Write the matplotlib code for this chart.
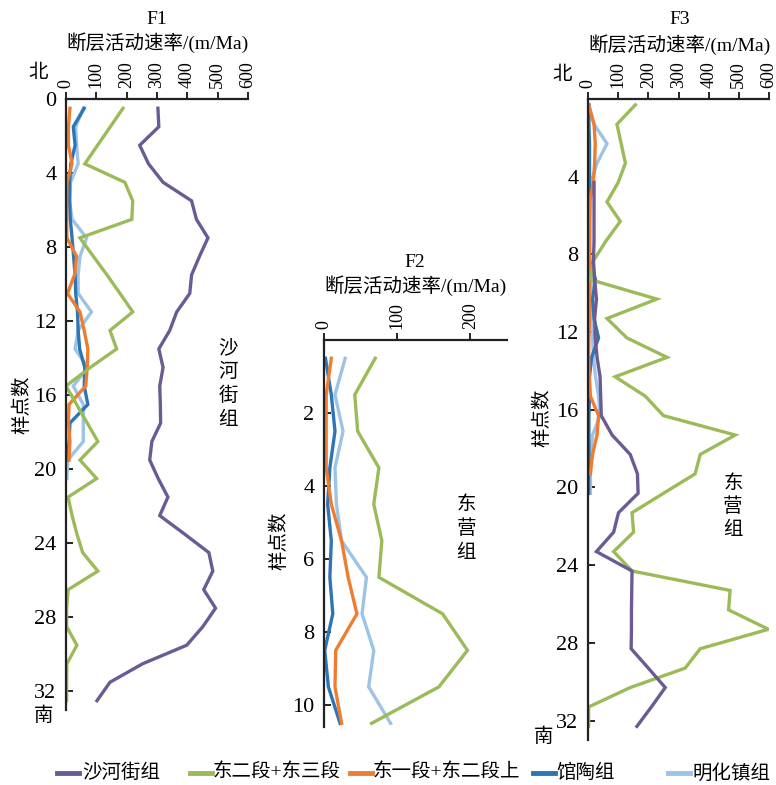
import matplotlib
matplotlib.use("Agg")
import matplotlib.pyplot as plt
from matplotlib.lines import Line2D
import numpy as np

plt.rcParams['font.family'] = ['Liberation Serif', 'Noto Sans CJK SC', 'DejaVu Sans']

W, H = 776, 785

series_names = ["沙河街组", "东二段+东三段", "东一段+东二段上", "馆陶组", "明化镇组"]
series_colors = ["#6B5B95", "#9BBB59", "#ED7D31", "#2E75B6", "#9DC3E6"]

# ---- F1 (samples at k + 0.5) ----
f1_shahejie = [303, 306, 243, 272, 320, 414, 430, 468, 440, 414, 408, 365, 342, 306, 320,
               309, 311, 312, 283, 276, 304, 336, 309, 391, 471, 484, 454, 493, 451, 398,
               253, 145, 102]
f1_dong23 = [188, 146, 104, 62, 194, 220, 217, 46, 90, 135, 178, 220, 145, 167, 80,
             0, 35, 70, 105, 46, 101, 7, 20, 36, 55, 105, 7, 2, 2, 36, 3, 2, 2]
f1_dong12 = [13, 8, 8, 20, 3, 2, 2, 3, 35, 28, 5, 46, 60, 72, 70, 65, 10, 8, 13, 10]
f1_guantao = [60, 24, 30, 16, 12, 12, 14, 20, 25, 30, 32, 38, 40, 45, 62, 60, 72, 13, 10, 5]
f1_minghua = [57, 32, 35, 40, 15, 12, 20, 68, 46, 40, 40, 84, 40, 30, 72, 24, 57, 57, 57, 6, 3]

# ---- F2 (samples at k + 0.5) ----
f2_dong23 = [70, 42, 46, 75, 68, 79, 75, 162, 196, 157, 65]
f2_dong12 = [10, 3, 3, 3, 10, 24, 33, 45, 16, 15, 24]
f2_guantao = [2, 10, 15, 8, 5, 10, 8, 12, 1, 6, 22]
f2_minghua = [29, 15, 26, 15, 17, 24, 58, 52, 68, 61, 91]

# ---- F3 (samples at k + 0.3) ----
f3_shahejie_start = 4
f3_shahejie = [20, 20, 20, 20, 18, 22, 28, 22, 24, 30, 40, 42, 44, 80, 140, 164, 166,
               101, 85, 28, 146, 145, 144, 144, 143, 200, 256, 210, 162]
f3_dong23 = [157, 96, 110, 124, 100, 63, 107, 60, 19, 8, 228, 63, 129, 262, 90, 190,
             250, 488, 372, 355, 250, 146, 151, 85, 146, 471, 466, 598, 372, 322, 140, 2, 2]
f3_dong12 = [2, 20, 24, 22, 18, 5, 5, 5, 5, 5, 5, 5, 3, 2, 4, 8, 35, 30, 15, 8]
f3_guantao = [3, 3, 5, 5, 5, 5, 5, 5, 5, 25, 15, 20, 35, 12, 5, 5, 3, 3, 3, 2, 2]
f3_minghua = [3, 20, 63, 30, 10, 8, 6, 5, 5, 15, 10, 12, 15, 18, 25, 35, 40, 15, 10, 8, 8]

f1_xticks = [0, 100, 200, 300, 400, 500, 600]
f1_yticks = [0, 4, 8, 12, 16, 20, 24, 28, 32]
f2_xticks = [0, 100, 200]
f2_yticks = [2, 4, 6, 8, 10]
f3_xticks = [0, 100, 200, 300, 400, 500, 600]
f3_yticks = [4, 8, 12, 16, 20, 24, 28, 32]

fig = plt.figure(figsize=(W / 100, H / 100), dpi=100)


def px_axes(left, top, right, bottom):
    return fig.add_axes([left / W, 1 - bottom / H, (right - left) / W, (bottom - top) / H])


def ftext(x, y, s, **kw):
    fig.text(x / W, 1 - y / H, s, **kw)


def vtext(x, y0, pitch, s, **kw):
    # stacked vertical label, one character per row
    for i, ch in enumerate(s):
        ftext(x, y0 + i * pitch, ch, ha="center", va="center", **kw)


def style(ax, xlim, ylim, xticks, yticks):
    ax.set_xlim(*xlim)
    ax.set_ylim(*ylim)
    for side in ("right", "bottom"):
        ax.spines[side].set_visible(False)
    for side in ("left", "top"):
        ax.spines[side].set_linewidth(1.6)
        ax.spines[side].set_color("#222222")
    ax.xaxis.tick_top()
    ax.set_xticks(xticks)
    ax.set_yticks(yticks)
    ax.tick_params(axis="x", direction="out", length=5, width=1.2, pad=3,
                   labelsize=13, labelrotation=90)
    ax.tick_params(axis="y", direction="in", length=5, width=1.2, pad=7, labelsize=16)
    ax.patch.set_alpha(0)


def draw(ax, values, offset, color, start=0):
    y = np.arange(start, start + len(values)) + offset
    ax.plot(values, y, color=color, lw=2.4, solid_joinstyle="miter")


draw_order = [4, 3, 2, 1, 0]

# F1
ax1 = px_axes(66, 99, 248, 710)
style(ax1, (0, 600), (33, 0), f1_xticks, f1_yticks)
f1_data = [f1_shahejie, f1_dong23, f1_dong12, f1_guantao, f1_minghua]
for i in draw_order:
    draw(ax1, f1_data[i], 0.5, series_colors[i])

# F2
ax2 = px_axes(324, 340, 507, 727)
style(ax2, (0, 250), (10.6, 0), f2_xticks, f2_yticks)
f2_data = [None, f2_dong23, f2_dong12, f2_guantao, f2_minghua]
for i in draw_order:
    if f2_data[i] is not None:
        draw(ax2, f2_data[i], 0.5, series_colors[i])

# F3
ax3 = px_axes(588, 99, 769, 740)
style(ax3, (0, 600), (33, 0), f3_xticks, f3_yticks)
f3_data = [f3_shahejie, f3_dong23, f3_dong12, f3_guantao, f3_minghua]
for i in draw_order:
    start = f3_shahejie_start if i == 0 else 0
    draw(ax3, f3_data[i], 0.3, series_colors[i], start=start)

# Titles and annotations
unit = "断层活动速率/(m/Ma)"
ftext(157, 19, "F1", ha="center", va="center", fontsize=14)
ftext(157, 43, unit, ha="center", va="center", fontsize=14)
ftext(415, 263, "F2", ha="center", va="center", fontsize=14)
ftext(415, 286, unit, ha="center", va="center", fontsize=14)
ftext(680, 19, "F3", ha="center", va="center", fontsize=14)
ftext(680, 45, unit, ha="center", va="center", fontsize=14)

ftext(38, 73, "北", ha="center", va="center", fontsize=14)
ftext(44, 716, "南", ha="center", va="center", fontsize=14)
ftext(562, 75, "北", ha="center", va="center", fontsize=14)
ftext(544, 737, "南", ha="center", va="center", fontsize=14)

ftext(22, 405, "样点数", ha="center", va="center", fontsize=14, rotation=90)
ftext(279, 541, "样点数", ha="center", va="center", fontsize=14, rotation=90)
ftext(542, 418, "样点数", ha="center", va="center", fontsize=14, rotation=90)

vtext(228, 348, 24, "沙河街组", fontsize=14)
vtext(466, 505, 24, "东营组", fontsize=14)
vtext(733, 484, 23, "东营组", fontsize=14)

# Legend, one entry per slot along the bottom
legend_slots = [(57, 82), (190, 213), (350, 373), (533, 556), (668, 692)]
legend_y = 773
for (lx, tx), name, color in zip(legend_slots, series_names, series_colors):
    fig.add_artist(Line2D([lx / W, (lx + 22) / W], [1 - legend_y / H] * 2,
                          color=color, lw=3.5, transform=fig.transFigure))
    ftext(tx, legend_y, name, ha="left", va="center", fontsize=14)

fig.savefig("out.png", dpi=100)
